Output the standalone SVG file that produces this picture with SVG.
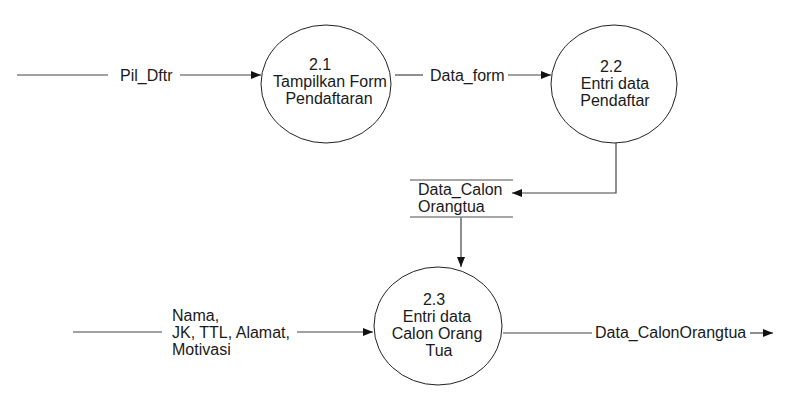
<svg xmlns="http://www.w3.org/2000/svg" width="810" height="409" viewBox="0 0 810 409">
<style>
text{font-family:"Liberation Sans",Arial,sans-serif;font-size:16px;fill:#1a1a1a}
.c{text-anchor:middle}
.proc{fill:#fff;stroke:#222;stroke-width:1}
.flow{fill:none;stroke:#444;stroke-width:1.2}
.store{stroke:#888;stroke-width:1.5}
</style>
<defs>
<marker id="ah" markerUnits="userSpaceOnUse" markerWidth="11" markerHeight="9" refX="10" refY="4" orient="auto">
<path d="M0,0 L10,4 L0,8 z" fill="#111"/>
</marker>
</defs>
<rect width="810" height="409" fill="#fff"/>
<g id="connectors">
<line class="flow" x1="17" y1="75" x2="108" y2="75"/>
<text x="120" y="81">Pil_Dftr</text>
<line class="flow" x1="180" y1="75" x2="261" y2="75" marker-end="url(#ah)"/>
<line class="flow" x1="395" y1="75" x2="423" y2="75"/>
<text x="430" y="81">Data_form</text>
<line class="flow" x1="508" y1="75" x2="551" y2="75" marker-end="url(#ah)"/>
<polyline class="flow" points="616,143 616,193 512,193" marker-end="url(#ah)"/>
<line class="flow" x1="461" y1="217" x2="461" y2="267" marker-end="url(#ah)"/>
<line class="flow" x1="73" y1="332" x2="162" y2="332"/>
<text x="172" y="321">Nama,</text>
<text x="172" y="338">JK, TTL, Alamat,</text>
<text x="172" y="355">Motivasi</text>
<line class="flow" x1="297" y1="332" x2="373" y2="332" marker-end="url(#ah)"/>
<line class="flow" x1="503" y1="333" x2="592" y2="333"/>
<text x="595" y="338">Data_CalonOrangtua</text>
<line class="flow" x1="750" y1="333" x2="773" y2="333" marker-end="url(#ah)"/>
</g>
<g id="p21">
<ellipse class="proc" cx="326" cy="84" rx="65" ry="59"/>
<text class="c" x="320" y="70">2.1</text>
<text class="c" x="330" y="87">Tampilkan Form</text>
<text class="c" x="329" y="104">Pendaftaran</text>
</g>
<g id="p22">
<ellipse class="proc" cx="614" cy="84" rx="63" ry="59"/>
<text class="c" x="611" y="72">2.2</text>
<text class="c" x="615" y="89">Entri data</text>
<text class="c" x="615" y="106">Pendaftar</text>
</g>
<g id="store">
<line class="store" x1="410" y1="180" x2="513" y2="180"/>
<line class="store" x1="410" y1="217" x2="513" y2="217"/>
<text x="418" y="195">Data_Calon</text>
<text x="418" y="212">Orangtua</text>
</g>
<g id="p23">
<ellipse class="proc" cx="438" cy="326" rx="64" ry="59"/>
<text class="c" x="434" y="305">2.3</text>
<text class="c" x="437" y="322">Entri data</text>
<text class="c" x="437" y="339">Calon Orang</text>
<text class="c" x="439" y="356">Tua</text>
</g>
</svg>
